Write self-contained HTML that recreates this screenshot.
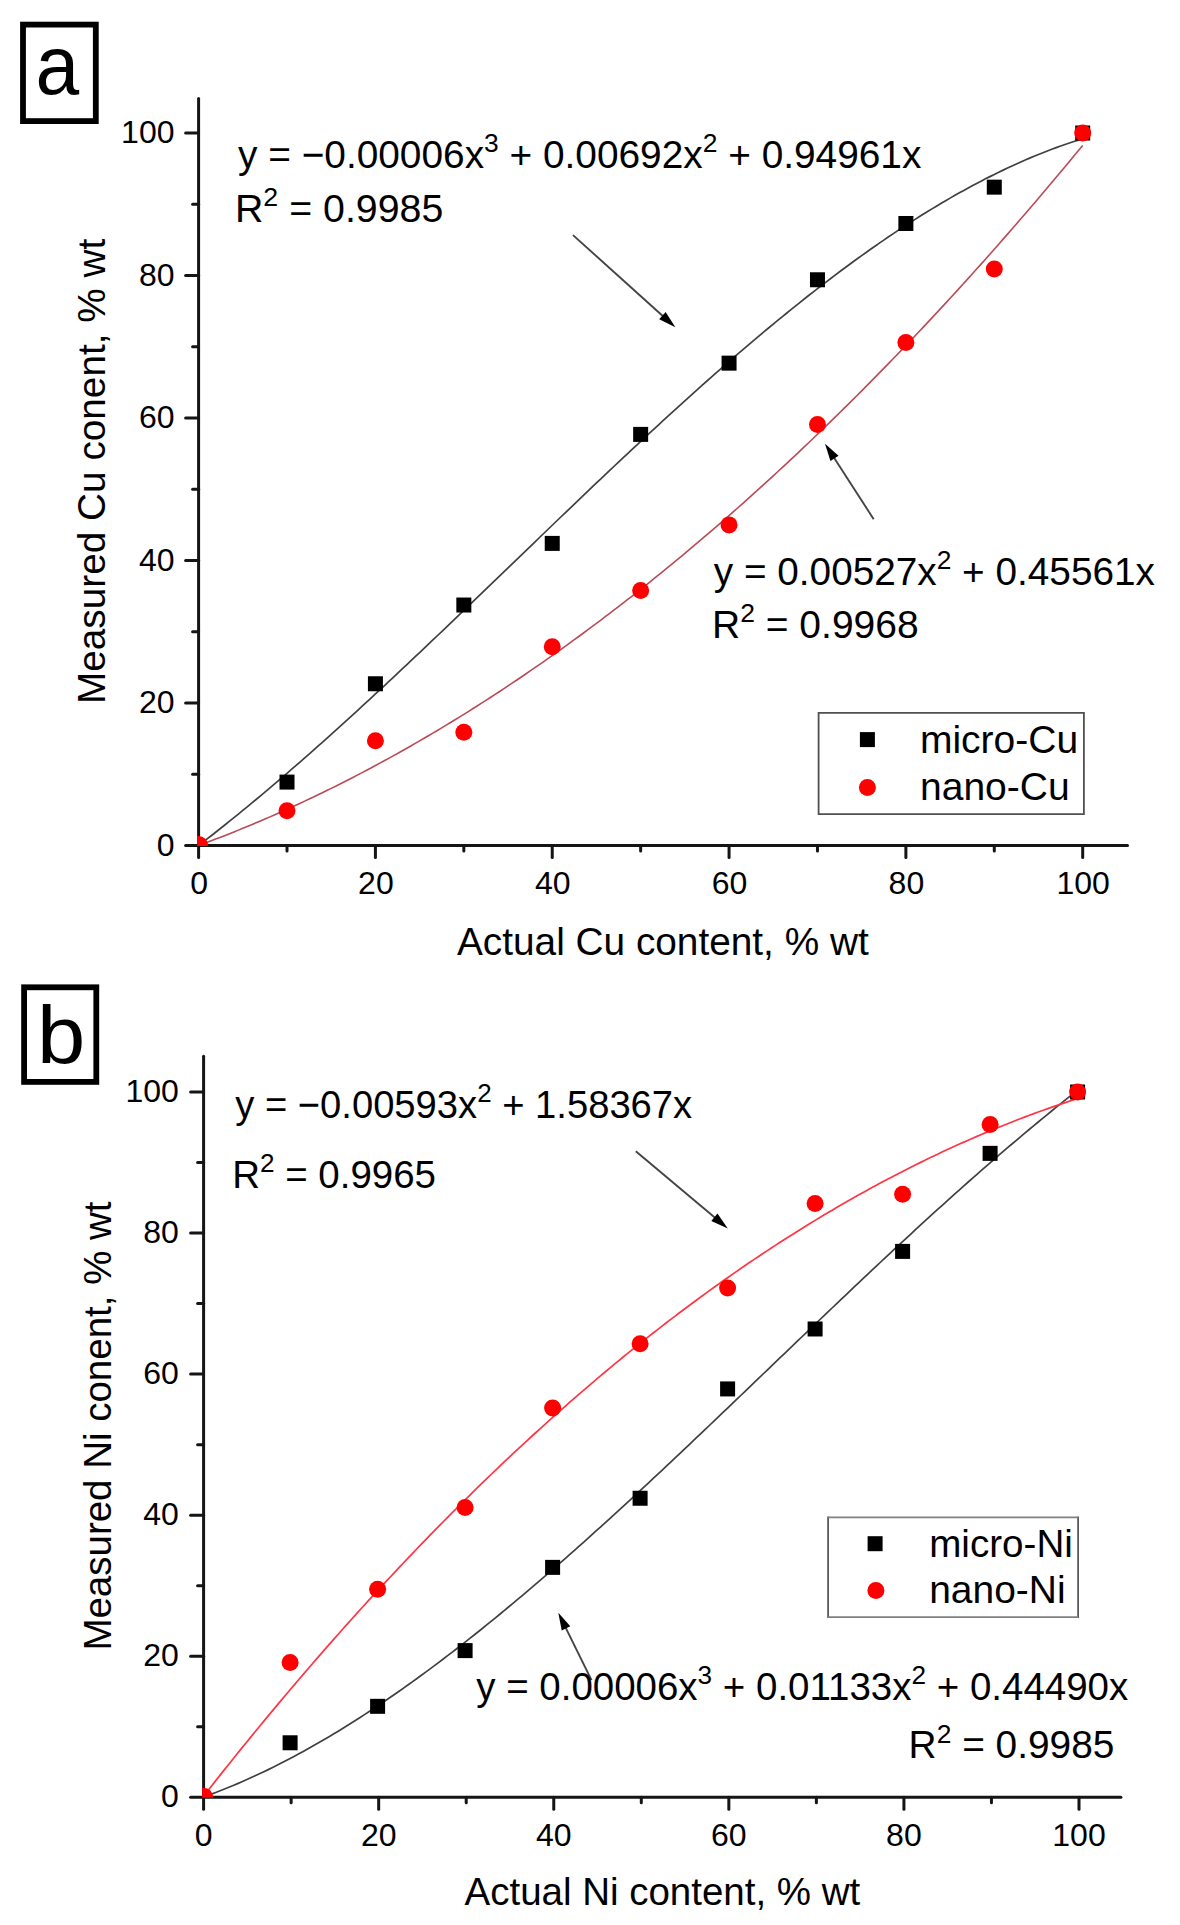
<!DOCTYPE html>
<html><head><meta charset="utf-8"><style>
html,body{margin:0;padding:0;background:#fff;}
body{width:1180px;height:1925px;overflow:hidden;position:relative;}
svg{position:absolute;left:0;top:0;}
text{font-family:"Liberation Sans",sans-serif;fill:#000;}
</style></head><body>
<svg width="1180" height="1925" viewBox="0 0 1180 1925">
<rect width="1180" height="1925" fill="#fff"/>
<rect x="23" y="24.6" width="72.8" height="96.5" fill="none" stroke="#000" stroke-width="5.8"/>
<path d="M198.60,845.50 L203.02,842.10 L207.44,838.68 L211.86,835.23 L216.28,831.76 L220.70,828.27 L225.12,824.75 L229.54,821.21 L233.96,817.65 L238.38,814.06 L242.81,810.46 L247.23,806.83 L251.65,803.18 L256.07,799.52 L260.49,795.83 L264.91,792.12 L269.33,788.39 L273.75,784.65 L278.17,780.88 L282.59,777.10 L287.01,773.29 L291.43,769.47 L295.85,765.64 L300.27,761.78 L304.69,757.91 L309.11,754.03 L313.53,750.12 L317.95,746.20 L322.37,742.27 L326.79,738.32 L331.21,734.36 L335.64,730.38 L340.06,726.39 L344.48,722.38 L348.90,718.36 L353.32,714.33 L357.74,710.29 L362.16,706.23 L366.58,702.16 L371.00,698.08 L375.42,693.99 L379.84,689.89 L384.26,685.78 L388.68,681.66 L393.10,677.53 L397.52,673.39 L401.94,669.24 L406.36,665.08 L410.78,660.91 L415.20,656.73 L419.62,652.55 L424.05,648.36 L428.47,644.17 L432.89,639.96 L437.31,635.75 L441.73,631.54 L446.15,627.32 L450.57,623.09 L454.99,618.86 L459.41,614.62 L463.83,610.38 L468.25,606.14 L472.67,601.89 L477.09,597.64 L481.51,593.39 L485.93,589.13 L490.35,584.88 L494.77,580.62 L499.19,576.36 L503.61,572.10 L508.03,567.83 L512.46,563.57 L516.88,559.31 L521.30,555.05 L525.72,550.79 L530.14,546.53 L534.56,542.27 L538.98,538.01 L543.40,533.76 L547.82,529.50 L552.24,525.25 L556.66,521.01 L561.08,516.76 L565.50,512.53 L569.92,508.29 L574.34,504.06 L578.76,499.84 L583.18,495.62 L587.60,491.40 L592.02,487.19 L596.44,482.99 L600.87,478.80 L605.29,474.61 L609.71,470.43 L614.13,466.25 L618.55,462.09 L622.97,457.93 L627.39,453.78 L631.81,449.64 L636.23,445.51 L640.65,441.39 L645.07,437.28 L649.49,433.19 L653.91,429.10 L658.33,425.02 L662.75,420.95 L667.17,416.90 L671.59,412.86 L676.01,408.83 L680.43,404.81 L684.85,400.81 L689.28,396.82 L693.70,392.85 L698.12,388.89 L702.54,384.94 L706.96,381.01 L711.38,377.09 L715.80,373.19 L720.22,369.31 L724.64,365.44 L729.06,361.59 L733.48,357.76 L737.90,353.94 L742.32,350.14 L746.74,346.36 L751.16,342.60 L755.58,338.86 L760.00,335.13 L764.42,331.43 L768.84,327.75 L773.26,324.08 L777.69,320.44 L782.11,316.82 L786.53,313.22 L790.95,309.64 L795.37,306.08 L799.79,302.54 L804.21,299.03 L808.63,295.54 L813.05,292.08 L817.47,288.63 L821.89,285.22 L826.31,281.82 L830.73,278.45 L835.15,275.11 L839.57,271.79 L843.99,268.50 L848.41,265.23 L852.83,261.99 L857.25,258.78 L861.67,255.59 L866.10,252.44 L870.52,249.31 L874.94,246.20 L879.36,243.13 L883.78,240.09 L888.20,237.07 L892.62,234.09 L897.04,231.13 L901.46,228.20 L905.88,225.31 L910.30,222.45 L914.72,219.62 L919.14,216.82 L923.56,214.05 L927.98,211.31 L932.40,208.61 L936.82,205.94 L941.24,203.30 L945.66,200.70 L950.08,198.13 L954.51,195.60 L958.93,193.10 L963.35,190.64 L967.77,188.21 L972.19,185.82 L976.61,183.46 L981.03,181.14 L985.45,178.86 L989.87,176.62 L994.29,174.41 L998.71,172.24 L1003.13,170.11 L1007.55,168.02 L1011.97,165.96 L1016.39,163.95 L1020.81,161.98 L1025.23,160.04 L1029.65,158.15 L1034.07,156.30 L1038.49,154.49 L1042.92,152.72 L1047.34,150.99 L1051.76,149.31 L1056.18,147.66 L1060.60,146.06 L1065.02,144.51 L1069.44,142.99 L1073.86,141.52 L1078.28,140.10 L1082.70,138.72" fill="none" stroke="#404040" stroke-width="1.7" stroke-linejoin="round"/>
<path d="M198.60,845.50 L203.02,843.87 L207.44,842.22 L211.86,840.55 L216.28,838.86 L220.70,837.15 L225.12,835.42 L229.54,833.68 L233.96,831.91 L238.38,830.13 L242.81,828.33 L247.23,826.51 L251.65,824.67 L256.07,822.81 L260.49,820.94 L264.91,819.04 L269.33,817.13 L273.75,815.19 L278.17,813.24 L282.59,811.27 L287.01,809.28 L291.43,807.27 L295.85,805.25 L300.27,803.20 L304.69,801.14 L309.11,799.06 L313.53,796.95 L317.95,794.83 L322.37,792.69 L326.79,790.54 L331.21,788.36 L335.64,786.16 L340.06,783.95 L344.48,781.71 L348.90,779.46 L353.32,777.19 L357.74,774.90 L362.16,772.59 L366.58,770.27 L371.00,767.92 L375.42,765.56 L379.84,763.17 L384.26,760.77 L388.68,758.35 L393.10,755.91 L397.52,753.45 L401.94,750.97 L406.36,748.48 L410.78,745.96 L415.20,743.43 L419.62,740.88 L424.05,738.31 L428.47,735.72 L432.89,733.11 L437.31,730.48 L441.73,727.83 L446.15,725.17 L450.57,722.48 L454.99,719.78 L459.41,717.06 L463.83,714.32 L468.25,711.56 L472.67,708.78 L477.09,705.99 L481.51,703.17 L485.93,700.34 L490.35,697.48 L494.77,694.61 L499.19,691.72 L503.61,688.81 L508.03,685.89 L512.46,682.94 L516.88,679.97 L521.30,676.99 L525.72,673.99 L530.14,670.96 L534.56,667.92 L538.98,664.86 L543.40,661.79 L547.82,658.69 L552.24,655.57 L556.66,652.44 L561.08,649.29 L565.50,646.11 L569.92,642.92 L574.34,639.71 L578.76,636.48 L583.18,633.24 L587.60,629.97 L592.02,626.69 L596.44,623.38 L600.87,620.06 L605.29,616.72 L609.71,613.36 L614.13,609.98 L618.55,606.59 L622.97,603.17 L627.39,599.73 L631.81,596.28 L636.23,592.81 L640.65,589.32 L645.07,585.81 L649.49,582.28 L653.91,578.73 L658.33,575.16 L662.75,571.58 L667.17,567.98 L671.59,564.35 L676.01,560.71 L680.43,557.05 L684.85,553.37 L689.28,549.68 L693.70,545.96 L698.12,542.22 L702.54,538.47 L706.96,534.70 L711.38,530.91 L715.80,527.09 L720.22,523.27 L724.64,519.42 L729.06,515.55 L733.48,511.67 L737.90,507.76 L742.32,503.84 L746.74,499.90 L751.16,495.94 L755.58,491.96 L760.00,487.96 L764.42,483.94 L768.84,479.91 L773.26,475.85 L777.69,471.78 L782.11,467.69 L786.53,463.58 L790.95,459.45 L795.37,455.30 L799.79,451.13 L804.21,446.95 L808.63,442.74 L813.05,438.52 L817.47,434.28 L821.89,430.01 L826.31,425.74 L830.73,421.44 L835.15,417.12 L839.57,412.78 L843.99,408.43 L848.41,404.06 L852.83,399.66 L857.25,395.25 L861.67,390.82 L866.10,386.37 L870.52,381.91 L874.94,377.42 L879.36,372.91 L883.78,368.39 L888.20,363.85 L892.62,359.29 L897.04,354.71 L901.46,350.11 L905.88,345.49 L910.30,340.85 L914.72,336.20 L919.14,331.52 L923.56,326.83 L927.98,322.12 L932.40,317.39 L936.82,312.64 L941.24,307.87 L945.66,303.09 L950.08,298.28 L954.51,293.46 L958.93,288.61 L963.35,283.75 L967.77,278.87 L972.19,273.97 L976.61,269.06 L981.03,264.12 L985.45,259.16 L989.87,254.19 L994.29,249.20 L998.71,244.18 L1003.13,239.15 L1007.55,234.10 L1011.97,229.04 L1016.39,223.95 L1020.81,218.84 L1025.23,213.72 L1029.65,208.57 L1034.07,203.41 L1038.49,198.23 L1042.92,193.03 L1047.34,187.81 L1051.76,182.58 L1056.18,177.32 L1060.60,172.05 L1065.02,166.75 L1069.44,161.44 L1073.86,156.11 L1078.28,150.76 L1082.70,145.39" fill="none" stroke="#bb4a58" stroke-width="1.6" stroke-linejoin="round"/>
<clipPath id="clipa"><rect x="198.6" y="0" width="2000" height="845.5"/></clipPath>
<g clip-path="url(#clipa)">
<rect x="279.51" y="774.59" width="15" height="15" fill="#000"/>
<rect x="367.92" y="676.26" width="15" height="15" fill="#000"/>
<rect x="456.33" y="597.53" width="15" height="15" fill="#000"/>
<rect x="544.74" y="535.9" width="15" height="15" fill="#000"/>
<rect x="633.15" y="426.89" width="15" height="15" fill="#000"/>
<rect x="721.56" y="355.64" width="15" height="15" fill="#000"/>
<rect x="809.97" y="272.27" width="15" height="15" fill="#000"/>
<rect x="898.38" y="215.99" width="15" height="15" fill="#000"/>
<rect x="986.79" y="179.65" width="15" height="15" fill="#000"/>
<rect x="1075.2" y="125.5" width="15" height="15" fill="#000"/>
<circle cx="287.01" cy="810.8" r="8.5" fill="#ff0000"/>
<circle cx="375.42" cy="740.76" r="8.5" fill="#ff0000"/>
<circle cx="463.83" cy="732.21" r="8.5" fill="#ff0000"/>
<circle cx="552.24" cy="646.71" r="8.5" fill="#ff0000"/>
<circle cx="640.65" cy="590.42" r="8.5" fill="#ff0000"/>
<circle cx="729.06" cy="524.88" r="8.5" fill="#ff0000"/>
<circle cx="817.47" cy="424.41" r="8.5" fill="#ff0000"/>
<circle cx="905.88" cy="342.48" r="8.5" fill="#ff0000"/>
<circle cx="994.29" cy="269.09" r="8.5" fill="#ff0000"/>
<circle cx="1082.7" cy="133" r="8.5" fill="#ff0000"/>
</g>
<line x1="198.6" y1="98.5" x2="198.6" y2="857.5" stroke="#151515" stroke-width="3" stroke-linecap="round"/>
<line x1="185.6" y1="845.5" x2="1127.5" y2="845.5" stroke="#151515" stroke-width="3" stroke-linecap="round"/>
<line x1="192.6" y1="774.25" x2="198.6" y2="774.25" stroke="#151515" stroke-width="3" stroke-linecap="round"/>
<line x1="287.01" y1="845.5" x2="287.01" y2="851" stroke="#151515" stroke-width="3" stroke-linecap="round"/>
<line x1="185.6" y1="703" x2="198.6" y2="703" stroke="#151515" stroke-width="3" stroke-linecap="round"/>
<line x1="375.42" y1="845.5" x2="375.42" y2="857.5" stroke="#151515" stroke-width="3" stroke-linecap="round"/>
<line x1="192.6" y1="631.75" x2="198.6" y2="631.75" stroke="#151515" stroke-width="3" stroke-linecap="round"/>
<line x1="463.83" y1="845.5" x2="463.83" y2="851" stroke="#151515" stroke-width="3" stroke-linecap="round"/>
<line x1="185.6" y1="560.5" x2="198.6" y2="560.5" stroke="#151515" stroke-width="3" stroke-linecap="round"/>
<line x1="552.24" y1="845.5" x2="552.24" y2="857.5" stroke="#151515" stroke-width="3" stroke-linecap="round"/>
<line x1="192.6" y1="489.25" x2="198.6" y2="489.25" stroke="#151515" stroke-width="3" stroke-linecap="round"/>
<line x1="640.65" y1="845.5" x2="640.65" y2="851" stroke="#151515" stroke-width="3" stroke-linecap="round"/>
<line x1="185.6" y1="418" x2="198.6" y2="418" stroke="#151515" stroke-width="3" stroke-linecap="round"/>
<line x1="729.06" y1="845.5" x2="729.06" y2="857.5" stroke="#151515" stroke-width="3" stroke-linecap="round"/>
<line x1="192.6" y1="346.75" x2="198.6" y2="346.75" stroke="#151515" stroke-width="3" stroke-linecap="round"/>
<line x1="817.47" y1="845.5" x2="817.47" y2="851" stroke="#151515" stroke-width="3" stroke-linecap="round"/>
<line x1="185.6" y1="275.5" x2="198.6" y2="275.5" stroke="#151515" stroke-width="3" stroke-linecap="round"/>
<line x1="905.88" y1="845.5" x2="905.88" y2="857.5" stroke="#151515" stroke-width="3" stroke-linecap="round"/>
<line x1="192.6" y1="204.25" x2="198.6" y2="204.25" stroke="#151515" stroke-width="3" stroke-linecap="round"/>
<line x1="994.29" y1="845.5" x2="994.29" y2="851" stroke="#151515" stroke-width="3" stroke-linecap="round"/>
<line x1="185.6" y1="133" x2="198.6" y2="133" stroke="#151515" stroke-width="3" stroke-linecap="round"/>
<line x1="1082.7" y1="845.5" x2="1082.7" y2="857.5" stroke="#151515" stroke-width="3" stroke-linecap="round"/>
<clipPath id="oclipa"><rect x="197.1" y="825.5" width="20" height="20.5"/></clipPath>
<g clip-path="url(#oclipa)"><circle cx="198.6" cy="845.5" r="9.5" fill="#ff0000"/></g>
<line x1="573" y1="235.1" x2="663.88" y2="316.93" stroke="#444" stroke-width="1.9" stroke-linecap="butt"/>
<polygon points="675.4,327.3 659.18,319.16 665.61,312.02" fill="#000"/>
<line x1="873.7" y1="519.2" x2="833.4" y2="456.73" stroke="#444" stroke-width="1.9" stroke-linecap="butt"/>
<polygon points="825,443.7 838.52,455.8 830.45,461.01" fill="#000"/>
<line x1="818.6" y1="712" x2="818.6" y2="815" stroke="#505050" stroke-width="1.8" stroke-linecap="butt"/>
<line x1="1083.9" y1="712" x2="1083.9" y2="815" stroke="#505050" stroke-width="1.8" stroke-linecap="butt"/>
<line x1="818.6" y1="712.9" x2="1083.9" y2="712.9" stroke="#505050" stroke-width="1.8" stroke-linecap="butt"/>
<line x1="818.6" y1="814.1" x2="1083.9" y2="814.1" stroke="#505050" stroke-width="1.8" stroke-linecap="butt"/>
<rect x="859.9" y="732.1" width="15" height="15" fill="#000"/>
<circle cx="867.4" cy="787.4" r="8.5" fill="#ff0000"/>
<text x="174.5" y="855.5" font-size="32" text-anchor="end">0</text>
<text x="199.1" y="893.7" font-size="32" text-anchor="middle">0</text>
<text x="174.5" y="713" font-size="32" text-anchor="end">20</text>
<text x="375.92" y="893.7" font-size="32" text-anchor="middle">20</text>
<text x="174.5" y="570.5" font-size="32" text-anchor="end">40</text>
<text x="552.74" y="893.7" font-size="32" text-anchor="middle">40</text>
<text x="174.5" y="428" font-size="32" text-anchor="end">60</text>
<text x="729.56" y="893.7" font-size="32" text-anchor="middle">60</text>
<text x="174.5" y="285.5" font-size="32" text-anchor="end">80</text>
<text x="906.38" y="893.7" font-size="32" text-anchor="middle">80</text>
<text x="174.5" y="143" font-size="32" text-anchor="end">100</text>
<text x="1083.2" y="893.7" font-size="32" text-anchor="middle">100</text>
<rect x="24.1" y="987.3" width="72.2" height="94.6" fill="none" stroke="#000" stroke-width="5.8"/>
<path d="M202.60,1797.30 L206.97,1795.73 L211.35,1794.12 L215.72,1792.46 L220.10,1790.77 L224.47,1789.04 L228.85,1787.27 L233.22,1785.46 L237.60,1783.61 L241.97,1781.72 L246.35,1779.80 L250.72,1777.83 L255.10,1775.83 L259.48,1773.80 L263.85,1771.72 L268.23,1769.61 L272.60,1767.47 L276.98,1765.29 L281.35,1763.07 L285.73,1760.82 L290.10,1758.53 L294.48,1756.21 L298.85,1753.86 L303.23,1751.47 L307.60,1749.04 L311.98,1746.59 L316.35,1744.10 L320.73,1741.58 L325.10,1739.02 L329.48,1736.44 L333.85,1733.82 L338.23,1731.17 L342.60,1728.49 L346.98,1725.78 L351.35,1723.04 L355.73,1720.27 L360.10,1717.47 L364.48,1714.64 L368.85,1711.78 L373.23,1708.89 L377.60,1705.97 L381.98,1703.03 L386.35,1700.06 L390.73,1697.06 L395.10,1694.03 L399.48,1690.97 L403.85,1687.89 L408.23,1684.79 L412.60,1681.65 L416.98,1678.49 L421.35,1675.31 L425.73,1672.10 L430.10,1668.86 L434.48,1665.61 L438.85,1662.32 L443.23,1659.02 L447.60,1655.69 L451.98,1652.33 L456.35,1648.96 L460.73,1645.56 L465.10,1642.14 L469.48,1638.69 L473.85,1635.23 L478.23,1631.74 L482.60,1628.24 L486.98,1624.71 L491.35,1621.16 L495.73,1617.59 L500.10,1614.01 L504.48,1610.40 L508.85,1606.77 L513.23,1603.13 L517.60,1599.46 L521.98,1595.78 L526.35,1592.08 L530.73,1588.37 L535.10,1584.63 L539.48,1580.88 L543.85,1577.11 L548.23,1573.33 L552.60,1569.53 L556.98,1565.71 L561.35,1561.88 L565.73,1558.04 L570.10,1554.18 L574.48,1550.30 L578.85,1546.41 L583.23,1542.51 L587.60,1538.59 L591.98,1534.66 L596.35,1530.72 L600.73,1526.77 L605.10,1522.80 L609.48,1518.82 L613.85,1514.83 L618.23,1510.83 L622.60,1506.82 L626.98,1502.79 L631.35,1498.76 L635.73,1494.72 L640.10,1490.66 L644.48,1486.60 L648.85,1482.53 L653.23,1478.45 L657.60,1474.36 L661.98,1470.26 L666.35,1466.16 L670.73,1462.05 L675.10,1457.93 L679.48,1453.80 L683.85,1449.67 L688.23,1445.53 L692.60,1441.38 L696.98,1437.23 L701.35,1433.08 L705.73,1428.91 L710.10,1424.75 L714.48,1420.58 L718.85,1416.41 L723.23,1412.23 L727.60,1408.05 L731.98,1403.86 L736.35,1399.68 L740.73,1395.49 L745.10,1391.29 L749.48,1387.10 L753.85,1382.91 L758.23,1378.71 L762.60,1374.51 L766.98,1370.32 L771.35,1366.12 L775.73,1361.92 L780.10,1357.72 L784.48,1353.52 L788.85,1349.33 L793.23,1345.13 L797.60,1340.94 L801.98,1336.75 L806.35,1332.56 L810.73,1328.37 L815.10,1324.19 L819.48,1320.01 L823.85,1315.83 L828.23,1311.66 L832.60,1307.49 L836.98,1303.33 L841.35,1299.17 L845.73,1295.01 L850.10,1290.86 L854.48,1286.72 L858.85,1282.58 L863.23,1278.45 L867.60,1274.33 L871.98,1270.21 L876.35,1266.10 L880.73,1262.00 L885.10,1257.90 L889.48,1253.82 L893.85,1249.74 L898.23,1245.67 L902.60,1241.61 L906.98,1237.56 L911.35,1233.52 L915.73,1229.48 L920.10,1225.46 L924.48,1221.45 L928.85,1217.45 L933.23,1213.47 L937.60,1209.49 L941.98,1205.53 L946.35,1201.58 L950.73,1197.64 L955.10,1193.71 L959.48,1189.80 L963.85,1185.90 L968.23,1182.01 L972.60,1178.14 L976.98,1174.28 L981.35,1170.44 L985.73,1166.62 L990.10,1162.80 L994.48,1159.01 L998.85,1155.23 L1003.23,1151.46 L1007.60,1147.72 L1011.98,1143.99 L1016.35,1140.28 L1020.73,1136.58 L1025.10,1132.90 L1029.47,1129.24 L1033.85,1125.60 L1038.22,1121.98 L1042.60,1118.38 L1046.97,1114.80 L1051.35,1111.24 L1055.72,1107.69 L1060.10,1104.17 L1064.47,1100.67 L1068.85,1097.19 L1073.22,1093.73 L1077.60,1090.29" fill="none" stroke="#404040" stroke-width="1.7" stroke-linejoin="round"/>
<path d="M202.60,1797.30 L206.97,1791.73 L211.35,1786.17 L215.72,1780.64 L220.10,1775.13 L224.47,1769.64 L228.85,1764.17 L233.22,1758.72 L237.60,1753.29 L241.97,1747.88 L246.35,1742.50 L250.72,1737.13 L255.10,1731.79 L259.48,1726.46 L263.85,1721.16 L268.23,1715.88 L272.60,1710.62 L276.98,1705.38 L281.35,1700.16 L285.73,1694.96 L290.10,1689.79 L294.48,1684.63 L298.85,1679.49 L303.23,1674.38 L307.60,1669.29 L311.98,1664.21 L316.35,1659.16 L320.73,1654.13 L325.10,1649.12 L329.48,1644.13 L333.85,1639.17 L338.23,1634.22 L342.60,1629.29 L346.98,1624.39 L351.35,1619.50 L355.73,1614.64 L360.10,1609.80 L364.48,1604.98 L368.85,1600.18 L373.23,1595.40 L377.60,1590.64 L381.98,1585.90 L386.35,1581.18 L390.73,1576.49 L395.10,1571.81 L399.48,1567.16 L403.85,1562.52 L408.23,1557.91 L412.60,1553.32 L416.98,1548.75 L421.35,1544.20 L425.73,1539.67 L430.10,1535.16 L434.48,1530.68 L438.85,1526.21 L443.23,1521.76 L447.60,1517.34 L451.98,1512.94 L456.35,1508.56 L460.73,1504.19 L465.10,1499.85 L469.48,1495.53 L473.85,1491.23 L478.23,1486.96 L482.60,1482.70 L486.98,1478.46 L491.35,1474.25 L495.73,1470.05 L500.10,1465.88 L504.48,1461.73 L508.85,1457.60 L513.23,1453.49 L517.60,1449.40 L521.98,1445.33 L526.35,1441.28 L530.73,1437.25 L535.10,1433.25 L539.48,1429.26 L543.85,1425.30 L548.23,1421.36 L552.60,1417.43 L556.98,1413.53 L561.35,1409.65 L565.73,1405.79 L570.10,1401.95 L574.48,1398.14 L578.85,1394.34 L583.23,1390.56 L587.60,1386.81 L591.98,1383.07 L596.35,1379.36 L600.73,1375.67 L605.10,1372.00 L609.48,1368.35 L613.85,1364.72 L618.23,1361.11 L622.60,1357.52 L626.98,1353.95 L631.35,1350.41 L635.73,1346.88 L640.10,1343.38 L644.48,1339.90 L648.85,1336.43 L653.23,1332.99 L657.60,1329.57 L661.98,1326.17 L666.35,1322.79 L670.73,1319.44 L675.10,1316.10 L679.48,1312.78 L683.85,1309.49 L688.23,1306.22 L692.60,1302.96 L696.98,1299.73 L701.35,1296.52 L705.73,1293.33 L710.10,1290.16 L714.48,1287.01 L718.85,1283.88 L723.23,1280.78 L727.60,1277.69 L731.98,1274.63 L736.35,1271.58 L740.73,1268.56 L745.10,1265.56 L749.48,1262.57 L753.85,1259.61 L758.23,1256.67 L762.60,1253.76 L766.98,1250.86 L771.35,1247.98 L775.73,1245.13 L780.10,1242.29 L784.48,1239.48 L788.85,1236.68 L793.23,1233.91 L797.60,1231.16 L801.98,1228.43 L806.35,1225.72 L810.73,1223.03 L815.10,1220.37 L819.48,1217.72 L823.85,1215.09 L828.23,1212.49 L832.60,1209.90 L836.98,1207.34 L841.35,1204.80 L845.73,1202.28 L850.10,1199.78 L854.48,1197.30 L858.85,1194.84 L863.23,1192.40 L867.60,1189.99 L871.98,1187.59 L876.35,1185.22 L880.73,1182.86 L885.10,1180.53 L889.48,1178.22 L893.85,1175.93 L898.23,1173.65 L902.60,1171.41 L906.98,1169.18 L911.35,1166.97 L915.73,1164.78 L920.10,1162.62 L924.48,1160.47 L928.85,1158.35 L933.23,1156.25 L937.60,1154.16 L941.98,1152.10 L946.35,1150.06 L950.73,1148.04 L955.10,1146.04 L959.48,1144.07 L963.85,1142.11 L968.23,1140.18 L972.60,1138.26 L976.98,1136.37 L981.35,1134.49 L985.73,1132.64 L990.10,1130.81 L994.48,1129.00 L998.85,1127.21 L1003.23,1125.44 L1007.60,1123.70 L1011.98,1121.97 L1016.35,1120.26 L1020.73,1118.58 L1025.10,1116.91 L1029.47,1115.27 L1033.85,1113.65 L1038.22,1112.05 L1042.60,1110.47 L1046.97,1108.91 L1051.35,1107.37 L1055.72,1105.85 L1060.10,1104.36 L1064.47,1102.88 L1068.85,1101.43 L1073.22,1099.99 L1077.60,1098.58" fill="none" stroke="#ff3545" stroke-width="1.7" stroke-linejoin="round"/>
<clipPath id="clipb"><rect x="203.6" y="0" width="2000" height="1797.3"/></clipPath>
<g clip-path="url(#clipb)">
<rect x="282.6" y="1735.28" width="15" height="15" fill="#000"/>
<rect x="370.1" y="1698.82" width="15" height="15" fill="#000"/>
<rect x="457.6" y="1643.1" width="15" height="15" fill="#000"/>
<rect x="545.1" y="1559.87" width="15" height="15" fill="#000"/>
<rect x="632.6" y="1490.75" width="15" height="15" fill="#000"/>
<rect x="720.1" y="1381.43" width="15" height="15" fill="#000"/>
<rect x="807.6" y="1321.48" width="15" height="15" fill="#000"/>
<rect x="895.1" y="1243.9" width="15" height="15" fill="#000"/>
<rect x="982.6" y="1145.86" width="15" height="15" fill="#000"/>
<rect x="1070.1" y="1084.5" width="15" height="15" fill="#000"/>
<circle cx="290.1" cy="1662.59" r="8.5" fill="#ff0000"/>
<circle cx="377.6" cy="1589.24" r="8.5" fill="#ff0000"/>
<circle cx="465.1" cy="1507.42" r="8.5" fill="#ff0000"/>
<circle cx="552.6" cy="1407.97" r="8.5" fill="#ff0000"/>
<circle cx="640.1" cy="1343.79" r="8.5" fill="#ff0000"/>
<circle cx="727.6" cy="1288.07" r="8.5" fill="#ff0000"/>
<circle cx="815.1" cy="1203.44" r="8.5" fill="#ff0000"/>
<circle cx="902.6" cy="1194.27" r="8.5" fill="#ff0000"/>
<circle cx="990.1" cy="1124.44" r="8.5" fill="#ff0000"/>
<circle cx="1077.6" cy="1092" r="8.5" fill="#ff0000"/>
</g>
<line x1="203.6" y1="1056.2" x2="203.6" y2="1809.3" stroke="#151515" stroke-width="3" stroke-linecap="round"/>
<line x1="190.6" y1="1797.3" x2="1120.9" y2="1797.3" stroke="#151515" stroke-width="3" stroke-linecap="round"/>
<line x1="197.6" y1="1726.77" x2="203.6" y2="1726.77" stroke="#151515" stroke-width="3" stroke-linecap="round"/>
<line x1="291.14" y1="1797.3" x2="291.14" y2="1802.8" stroke="#151515" stroke-width="3" stroke-linecap="round"/>
<line x1="190.6" y1="1656.24" x2="203.6" y2="1656.24" stroke="#151515" stroke-width="3" stroke-linecap="round"/>
<line x1="378.68" y1="1797.3" x2="378.68" y2="1809.3" stroke="#151515" stroke-width="3" stroke-linecap="round"/>
<line x1="197.6" y1="1585.71" x2="203.6" y2="1585.71" stroke="#151515" stroke-width="3" stroke-linecap="round"/>
<line x1="466.22" y1="1797.3" x2="466.22" y2="1802.8" stroke="#151515" stroke-width="3" stroke-linecap="round"/>
<line x1="190.6" y1="1515.18" x2="203.6" y2="1515.18" stroke="#151515" stroke-width="3" stroke-linecap="round"/>
<line x1="553.76" y1="1797.3" x2="553.76" y2="1809.3" stroke="#151515" stroke-width="3" stroke-linecap="round"/>
<line x1="197.6" y1="1444.65" x2="203.6" y2="1444.65" stroke="#151515" stroke-width="3" stroke-linecap="round"/>
<line x1="641.3" y1="1797.3" x2="641.3" y2="1802.8" stroke="#151515" stroke-width="3" stroke-linecap="round"/>
<line x1="190.6" y1="1374.12" x2="203.6" y2="1374.12" stroke="#151515" stroke-width="3" stroke-linecap="round"/>
<line x1="728.84" y1="1797.3" x2="728.84" y2="1809.3" stroke="#151515" stroke-width="3" stroke-linecap="round"/>
<line x1="197.6" y1="1303.59" x2="203.6" y2="1303.59" stroke="#151515" stroke-width="3" stroke-linecap="round"/>
<line x1="816.38" y1="1797.3" x2="816.38" y2="1802.8" stroke="#151515" stroke-width="3" stroke-linecap="round"/>
<line x1="190.6" y1="1233.06" x2="203.6" y2="1233.06" stroke="#151515" stroke-width="3" stroke-linecap="round"/>
<line x1="903.92" y1="1797.3" x2="903.92" y2="1809.3" stroke="#151515" stroke-width="3" stroke-linecap="round"/>
<line x1="197.6" y1="1162.53" x2="203.6" y2="1162.53" stroke="#151515" stroke-width="3" stroke-linecap="round"/>
<line x1="991.46" y1="1797.3" x2="991.46" y2="1802.8" stroke="#151515" stroke-width="3" stroke-linecap="round"/>
<line x1="190.6" y1="1092" x2="203.6" y2="1092" stroke="#151515" stroke-width="3" stroke-linecap="round"/>
<line x1="1079" y1="1797.3" x2="1079" y2="1809.3" stroke="#151515" stroke-width="3" stroke-linecap="round"/>
<clipPath id="oclipb"><rect x="202.1" y="1777.3" width="20" height="20.5"/></clipPath>
<g clip-path="url(#oclipb)"><circle cx="203.6" cy="1797.3" r="9.5" fill="#ff0000"/></g>
<line x1="635.8" y1="1151.2" x2="715.93" y2="1218.53" stroke="#444" stroke-width="1.9" stroke-linecap="butt"/>
<polygon points="727.8,1228.5 711.31,1220.92 717.49,1213.57" fill="#000"/>
<line x1="591.5" y1="1680.2" x2="565.14" y2="1626.61" stroke="#444" stroke-width="1.9" stroke-linecap="butt"/>
<polygon points="558.3,1612.7 570.33,1626.28 561.72,1630.52" fill="#000"/>
<line x1="828.1" y1="1516.5" x2="828.1" y2="1618" stroke="#5a5a5a" stroke-width="1.8" stroke-linecap="butt"/>
<line x1="1078.1" y1="1516.5" x2="1078.1" y2="1618" stroke="#5a5a5a" stroke-width="1.8" stroke-linecap="butt"/>
<line x1="828.1" y1="1517.4" x2="1078.1" y2="1517.4" stroke="#808080" stroke-width="1.8" stroke-linecap="butt"/>
<line x1="828.1" y1="1617.1" x2="1078.1" y2="1617.1" stroke="#808080" stroke-width="1.8" stroke-linecap="butt"/>
<rect x="867.6" y="1536.2" width="15" height="15" fill="#000"/>
<circle cx="875.9" cy="1590.4" r="8.5" fill="#ff0000"/>
<text x="178.8" y="1806.8" font-size="32" text-anchor="end">0</text>
<text x="203.6" y="1845.6" font-size="32" text-anchor="middle">0</text>
<text x="178.8" y="1665.74" font-size="32" text-anchor="end">20</text>
<text x="378.68" y="1845.6" font-size="32" text-anchor="middle">20</text>
<text x="178.8" y="1524.68" font-size="32" text-anchor="end">40</text>
<text x="553.76" y="1845.6" font-size="32" text-anchor="middle">40</text>
<text x="178.8" y="1383.62" font-size="32" text-anchor="end">60</text>
<text x="728.84" y="1845.6" font-size="32" text-anchor="middle">60</text>
<text x="178.8" y="1242.56" font-size="32" text-anchor="end">80</text>
<text x="903.92" y="1845.6" font-size="32" text-anchor="middle">80</text>
<text x="178.8" y="1101.5" font-size="32" text-anchor="end">100</text>
<text x="1079" y="1845.6" font-size="32" text-anchor="middle">100</text>
<text id="la" transform="translate(35.38,94.2) scale(0.9465,1)" font-size="83">a</text>
<text id="lb" transform="translate(36.98,1062.6) scale(1.0722,1)" font-size="81">b</text>
<text id="xtA" transform="translate(456.99,955.2) scale(1.0156,1)" font-size="38.2">Actual Cu content, % wt</text>
<text id="xtB" transform="translate(464.59,1905.2) scale(1.0077,1)" font-size="38.2">Actual Ni content, % wt</text>
<text id="ytA" transform="translate(104.8,704.04) rotate(-90) scale(1.0151,1)" font-size="38.2">Measured Cu conent, % wt</text>
<text id="ytB" transform="translate(110.5,1650.62) rotate(-90) scale(1.0081,1)" font-size="38.2">Measured Ni conent, % wt</text>
<text id="eqA1" transform="translate(238,167.8) scale(0.9955,1)" font-size="39">y = −0.00006x<tspan font-size="26.52" dy="-15.6">3</tspan><tspan dy="15.6"> + 0.00692x</tspan><tspan font-size="26.52" dy="-15.6">2</tspan><tspan dy="15.6"> + 0.94961x</tspan></text>
<text id="eqA2" transform="translate(234.97,222) scale(1.0084,1)" font-size="39">R<tspan font-size="26.52" dy="-15.6">2</tspan><tspan dy="15.6"> = 0.9985</tspan></text>
<text id="eqA3" transform="translate(713.8,584.8) scale(0.9935,1)" font-size="39">y = 0.00527x<tspan font-size="26.52" dy="-15.6">2</tspan><tspan dy="15.6"> + 0.45561x</tspan></text>
<text id="eqA4" transform="translate(712,637.8)" font-size="39">R<tspan font-size="26.52" dy="-15.6">2</tspan><tspan dy="15.6"> = 0.9968</tspan></text>
<text id="eqB1" transform="translate(235.2,1118) scale(0.9792,1)" font-size="39">y = −0.00593x<tspan font-size="26.52" dy="-15.6">2</tspan><tspan dy="15.6"> + 1.58367x</tspan></text>
<text id="eqB2" transform="translate(232.24,1188) scale(0.9856,1)" font-size="39">R<tspan font-size="26.52" dy="-15.6">2</tspan><tspan dy="15.6"> = 0.9965</tspan></text>
<text id="eqB3" transform="translate(476.2,1699.6) scale(0.9868,1)" font-size="39">y = 0.00006x<tspan font-size="26.52" dy="-15.6">3</tspan><tspan dy="15.6"> + 0.01133x</tspan><tspan font-size="26.52" dy="-15.6">2</tspan><tspan dy="15.6"> + 0.44490x</tspan></text>
<text id="eqB4" transform="translate(908.61,1758.4) scale(0.9955,1)" font-size="39">R<tspan font-size="26.52" dy="-15.6">2</tspan><tspan dy="15.6"> = 0.9985</tspan></text>
<text id="legA1" transform="translate(919.96,752.6) scale(1.0132,1)" font-size="38.5">micro-Cu</text>
<text id="legA2" transform="translate(919.96,800.2) scale(1.0141,1)" font-size="38.5">nano-Cu</text>
<text id="legB1" transform="translate(929.19,1557.2) scale(1.0029,1)" font-size="38.5">micro-Ni</text>
<text id="legB2" transform="translate(929.17,1603.4) scale(1.0115,1)" font-size="38.5">nano-Ni</text>
</svg>
</body></html>
